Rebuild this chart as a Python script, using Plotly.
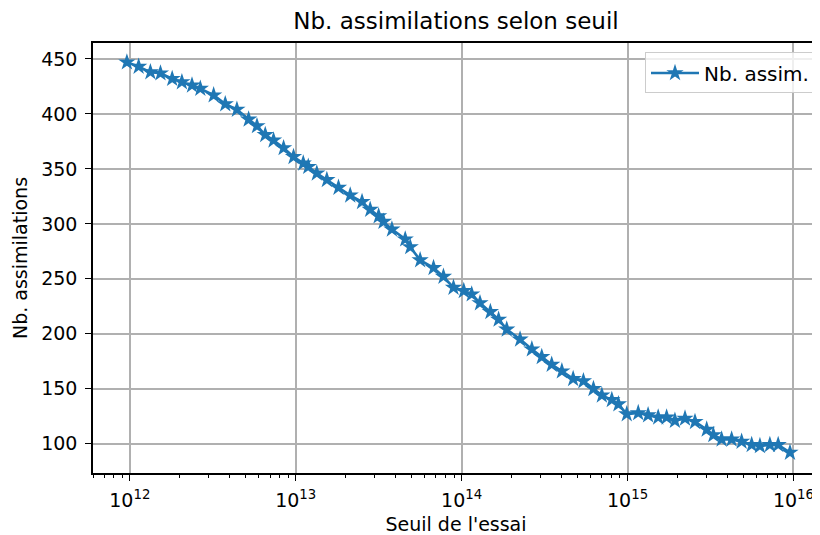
import plotly.graph_objects as go

# Thresholds (x) and number of assimilations (y)
seuils = [0.96e12, 1.13e12, 1.33e12, 1.53e12, 1.80e12, 2.06e12, 2.37e12, 2.66e12,
          3.20e12, 3.76e12, 4.42e12, 5.20e12, 5.84e12, 6.55e12, 7.35e12, 8.45e12,
          9.70e12, 1.11e13, 1.19e13, 1.34e13, 1.54e13, 1.81e13, 2.13e13, 2.51e13,
          2.81e13, 3.16e13, 3.38e13, 3.80e13, 4.57e13, 4.90e13, 5.62e13, 6.77e13,
          7.77e13, 8.93e13, 1.03e14, 1.15e14, 1.29e14, 1.49e14, 1.67e14, 1.87e14,
          2.25e14, 2.65e14, 3.04e14, 3.49e14, 4.02e14, 4.70e14, 5.42e14, 6.23e14,
          7.00e14, 8.04e14, 8.81e14, 9.89e14, 1.16e15, 1.33e15, 1.53e15, 1.72e15,
          1.93e15, 2.22e15, 2.55e15, 3.00e15, 3.29e15, 3.69e15, 4.24e15, 4.87e15,
          5.60e15, 6.28e15, 7.21e15, 8.09e15, 9.53e15]
nb_assim = [447, 443, 438, 437, 432, 429, 426, 423,
            417, 409, 404, 395, 389, 381, 376, 369,
            361, 355, 352, 346, 340, 333, 326, 320,
            313, 307, 302, 295, 286, 279, 267, 260,
            252, 242, 239, 236, 228, 220, 213, 204,
            195, 186, 179, 172, 166, 159, 157, 150,
            144, 140, 136, 127, 128, 126, 124, 124,
            121, 123, 120, 113, 108, 104, 104, 102,
            99, 98, 99, 99, 92]

major_ticks = [1e12, 1e13, 1e14, 1e15, 1e16]
major_labels = ["10<sup>12</sup>", "10<sup>13</sup>", "10<sup>14</sup>",
                "10<sup>15</sup>", "10<sup>16</sup>"]
minor_mult = [2, 3, 4, 5, 6, 7, 8, 9]
minor_ticks = [m * d for d in [1e11, 1e12, 1e13, 1e14, 1e15, 1e16] for m in minor_mult]
minor_ticks = [v for v in minor_ticks if 6.0e11 <= v <= 1.4e16]
y_ticks = [100, 150, 200, 250, 300, 350, 400, 450]

FONT = "DejaVu Sans"
BLUE = "#1f77b4"

# The page body has an 8px margin, so the figure is 8px smaller than the window
W, H = 812, 527
L, R, T, B = 85, 1, 35, 62

fig = go.Figure()
fig.add_trace(go.Scatter(
    x=seuils, y=nb_assim, mode="lines+markers", name="Nb. assim.",
    line=dict(color=BLUE, width=2.6),
    marker=dict(symbol="star", size=13, color=BLUE, line=dict(width=0)),
))

fig.update_layout(
    width=W, height=H,
    margin=dict(l=L, r=R, t=T, b=B, autoexpand=False),
    paper_bgcolor="white", plot_bgcolor="white",
    font=dict(family=FONT, size=19, color="black"),
    title=dict(text="Nb. assimilations selon seuil", font=dict(size=23, family=FONT),
               x=(L + (W - R)) / 2 / W, xanchor="center", xref="container",
               y=1 - 13 / H, yanchor="middle", yref="container", automargin=False),
    showlegend=True,
    legend=dict(x=0.9945, y=0.978, xanchor="right", yanchor="top",
                bgcolor="rgba(255,255,255,0.8)", bordercolor="#cccccc", borderwidth=1,
                font=dict(size=20, family=FONT), itemwidth=48),
)
fig.update_xaxes(
    type="log", range=[11.778, 16.154], automargin=False,
    tickvals=major_ticks, ticktext=major_labels,
    ticks="outside", ticklen=6, tickwidth=1.3, tickcolor="black",
    showline=True, linecolor="black", linewidth=1.5, mirror=True,
    showgrid=True, gridcolor="#b0b0b0", gridwidth=1.5, zeroline=False,
    tickfont=dict(size=19, family=FONT), ticklabelstandoff=3,
    minor=dict(tickvals=minor_ticks, ticks="outside", ticklen=3.5, tickwidth=1,
               tickcolor="black", showgrid=False),
    title=dict(text="Seuil de l'essai", font=dict(size=19, family=FONT), standoff=10),
)
fig.update_yaxes(
    range=[73.4, 464.5], tickvals=y_ticks, automargin=False,
    ticks="outside", ticklen=6, tickwidth=1.3, tickcolor="black",
    showline=True, linecolor="black", linewidth=1.5, mirror=True,
    showgrid=True, gridcolor="#b0b0b0", gridwidth=1.5, zeroline=False,
    tickfont=dict(size=19, family=FONT), ticklabelstandoff=4,
    title=dict(text="Nb. assimilations", font=dict(size=19, family=FONT), standoff=9),
)

fig.write_html("out.html")
